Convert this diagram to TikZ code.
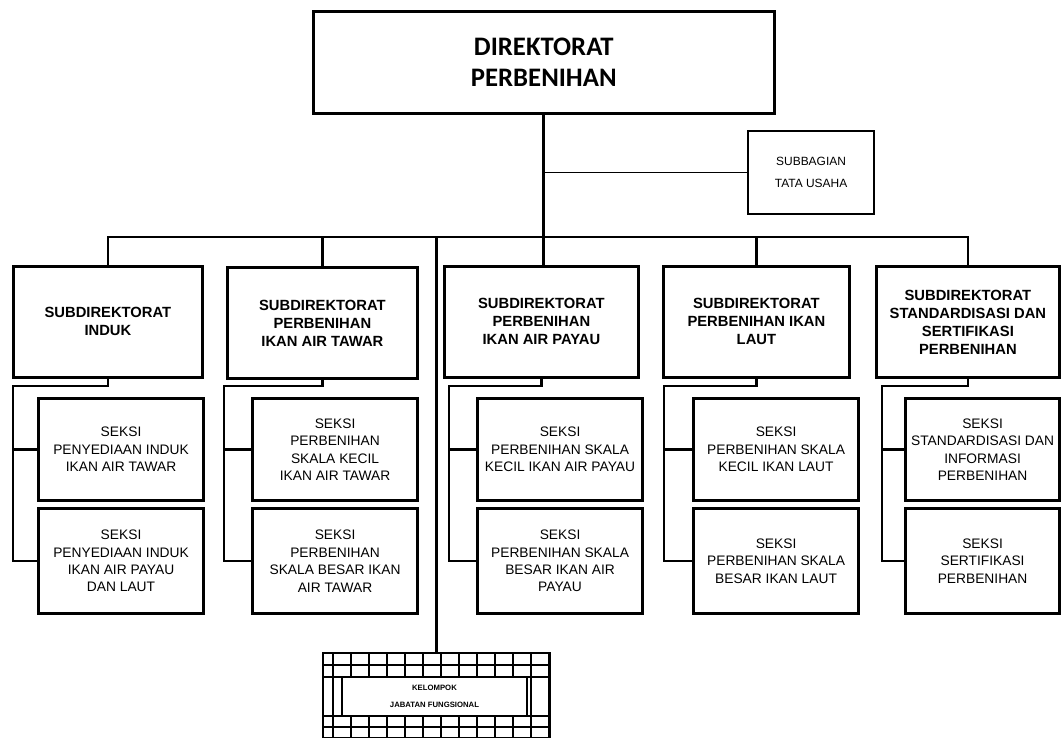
\documentclass[tikz,border=0pt]{standalone}
\usepackage{fontspec}
\setmainfont{Liberation Sans}
\newfontfamily\titlefont{Carlito}
\begin{document}
\begin{tikzpicture}[x=0.025cm, y=-0.025cm,
        box/.style={draw, line width=2pt, align=center, inner sep=0pt, anchor=north west},
        dirbox/.style={box, line width=1.8pt, font=\titlefont\bfseries\fontsize{19}{22.7}\selectfont},
        tubox/.style={box, line width=1.5pt, font=\fontsize{8.5}{16}\selectfont},
        subbox/.style={box, font=\bfseries\fontsize{10.5}{12.8}\selectfont, minimum height=111*0.025cm},
        seksibox/.style={box, line width=2.2pt, font=\fontsize{9.8}{12.4}\selectfont, minimum width=165*0.025cm},
        kelbox/.style={draw, line width=1.6pt, align=center, inner sep=0pt, fill=white},
        link/.style={line width=2pt},
        thinlink/.style={line width=1pt}]
    \useasboundingbox (0,0) rectangle (1061,738);

    \node[dirbox, minimum width=461*0.025cm, minimum height=102*0.025cm] (dir) at (312,10) {DIREKTORAT\\PERBENIHAN};
    \node[tubox, minimum width=126*0.025cm, minimum height=83*0.025cm] (tu) at (747,130) {SUBBAGIAN\\TATA USAHA};

    \node[subbox, minimum width=189*0.025cm] (sd1) at (12,265) {SUBDIREKTORAT\\INDUK};
    \node[subbox, minimum width=190*0.025cm] (sd2) at (226,266) {SUBDIREKTORAT\\PERBENIHAN\\IKAN AIR TAWAR};
    \node[subbox, minimum width=194*0.025cm] (sd3) at (443,265) {SUBDIREKTORAT\\PERBENIHAN\\IKAN AIR PAYAU};
    \node[subbox, minimum width=186*0.025cm] (sd4) at (662,265) {SUBDIREKTORAT\\PERBENIHAN IKAN\\LAUT};
    \node[subbox, minimum width=183*0.025cm] (sd5) at (875,265) {SUBDIREKTORAT\\STANDARDISASI DAN\\SERTIFIKASI\\PERBENIHAN};

    \node[seksibox, minimum height=102*0.025cm] (sa1) at (37,397) {SEKSI\\PENYEDIAAN INDUK\\IKAN AIR TAWAR};
    \node[seksibox, minimum height=105*0.025cm] (sb1) at (37,507) {SEKSI\\PENYEDIAAN INDUK\\IKAN AIR PAYAU\\DAN LAUT};
    \node[seksibox, minimum height=102*0.025cm] (sa2) at (251,397) {SEKSI\\PERBENIHAN\\SKALA KECIL\\IKAN AIR TAWAR};
    \node[seksibox, minimum height=105*0.025cm] (sb2) at (251,507) {SEKSI\\PERBENIHAN\\SKALA BESAR IKAN\\AIR TAWAR};
    \node[seksibox, minimum height=102*0.025cm] (sa3) at (476,397) {SEKSI\\PERBENIHAN SKALA\\KECIL IKAN AIR PAYAU};
    \node[seksibox, minimum height=105*0.025cm] (sb3) at (476,507) {SEKSI\\PERBENIHAN SKALA\\BESAR IKAN AIR\\PAYAU};
    \node[seksibox, minimum height=102*0.025cm] (sa4) at (692,397) {SEKSI\\PERBENIHAN SKALA\\KECIL IKAN LAUT};
    \node[seksibox, minimum height=105*0.025cm] (sb4) at (692,507) {SEKSI\\PERBENIHAN SKALA\\BESAR IKAN LAUT};
    \node[seksibox, minimum width=154*0.025cm, minimum height=102*0.025cm] (sa5) at (904,397) {SEKSI\\STANDARDISASI DAN\\INFORMASI\\PERBENIHAN};
    \node[seksibox, minimum width=154*0.025cm, minimum height=105*0.025cm] (sb5) at (904,507) {SEKSI\\SERTIFIKASI\\PERBENIHAN};

    \coordinate (bus) at (545,237);
    \draw[link] (dir.south) -- (dir.south |- sd3.north);
    \draw[thinlink] (dir.south |- tu.west) -- (tu.west);
    \draw[link] (sd1.north) |- (bus) -| (sd5.north);
    \draw[link] (bus -| sd2.north) -- (sd2.north);
    \draw[link] (bus -| sd4.north) -- (sd4.north);

    \foreach \n/\l in {1/13,2/224,3/449,4/664,5/882} {
        \coordinate (e\n) at (\l,386);
        \draw[link] (sd\n.south) |- (e\n) |- (sb\n.west);
        \draw[link] (e\n |- sa\n.west) -- (sa\n.west);
    }

    \begin{scope}
        \clip (323,653) rectangle (550,738);
        \foreach \x in {333,351,...,549}
            \draw[line width=0.8pt] (\x,653) -- (\x,738);
        \foreach \y in {665,677,716,727}
            \draw[line width=0.8pt] (323,\y) -- (550,\y);
    \end{scope}
    \node[draw, line width=2pt, inner sep=0pt, minimum width=227*0.025cm, minimum height=85*0.025cm] (kel) at (436.5,695.5) {};
    \node[kelbox, minimum width=185*0.025cm, minimum height=39*0.025cm] (kelin) at (434.5,696.5)
        {{\bfseries\fontsize{5.5}{7}\selectfont KELOMPOK}\\{\bfseries\fontsize{5.5}{7}\selectfont JABATAN FUNGSIONAL}};
    \draw[link] (kel.north |- bus) -- (kel.north);
\end{tikzpicture}
\end{document}
